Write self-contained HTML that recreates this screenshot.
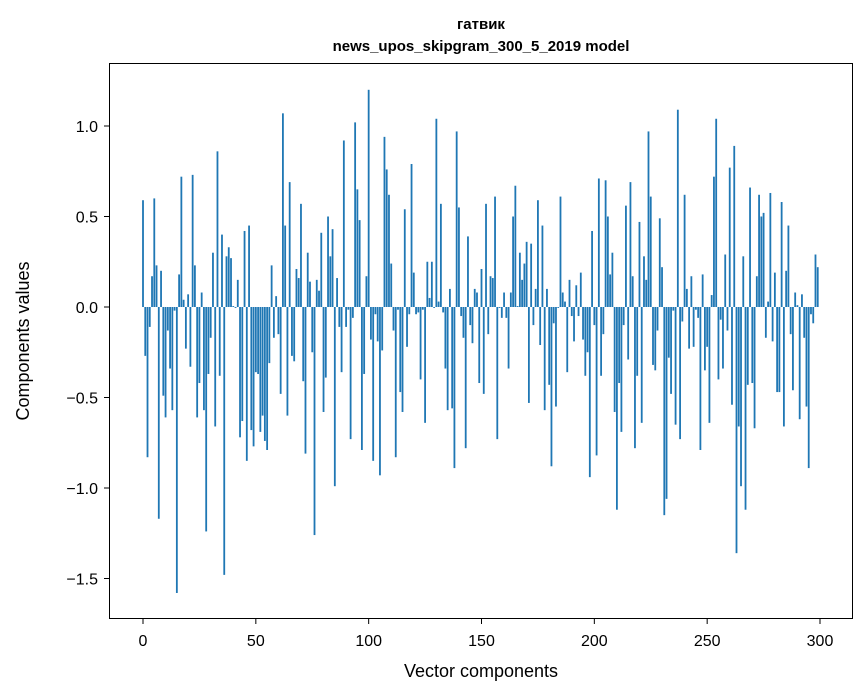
<!DOCTYPE html>
<html><head><meta charset="utf-8"><style>
body{margin:0;background:#fff;}
svg{display:block;font-family:"Liberation Sans","DejaVu Sans",sans-serif;}
</style></head><body>
<svg id="chart" width="867" height="696" viewBox="0 0 867 696" xmlns="http://www.w3.org/2000/svg">
<rect width="867" height="696" fill="#fff"/>
<text x="481" y="29" text-anchor="middle" font-size="15" font-weight="bold">гатвик</text>
<text x="481" y="51" text-anchor="middle" font-size="15" font-weight="bold">news_upos_skipgram_300_5_2019 model</text>
<g id="bars"></g>
<g id="axes"></g>
<rect x="109.5" y="63.5" width="743" height="555" fill="none" stroke="#000" stroke-width="1"/>
<text x="481" y="677" text-anchor="middle" font-size="18">Vector components</text>
<text x="29" y="341" text-anchor="middle" font-size="18" transform="rotate(-90 29 341)">Components values</text>
</svg>
<script>
const values = [
0.59,-0.27,-0.83,-0.11,0.17,0.60,0.23,-1.17,0.20,-0.49,
-0.61,-0.13,-0.34,-0.57,-0.02,-1.58,0.18,0.72,0.04,-0.23,
0.07,-0.33,0.73,0.23,-0.61,-0.42,0.08,-0.57,-1.24,-0.37,
-0.17,0.30,-0.66,0.86,-0.38,0.40,-1.48,0.28,0.33,0.27,
0.005,-0.005,0.15,-0.72,-0.63,0.42,-0.85,0.45,-0.68,-0.77,
-0.36,-0.37,-0.69,-0.60,-0.74,-0.79,-0.31,0.23,-0.17,0.06,
-0.15,-0.48,1.07,0.45,-0.60,0.69,-0.27,-0.30,0.21,0.16,
0.57,-0.41,-0.81,0.30,0.14,-0.25,-1.26,0.15,0.09,0.41,
-0.58,-0.39,0.50,0.28,0.43,-0.99,0.16,-0.11,-0.36,0.92,
-0.11,-0.015,-0.73,-0.06,1.02,0.65,0.48,-0.79,-0.37,0.17,
1.20,-0.18,-0.85,-0.04,-0.19,-0.93,-0.24,0.94,0.76,0.62,
0.24,-0.13,-0.83,-0.015,-0.47,-0.58,0.54,-0.22,-0.04,0.79,
0.19,-0.04,-0.03,-0.40,-0.015,-0.64,0.25,0.05,0.25,-0.005,
1.04,0.03,0.57,-0.03,-0.34,-0.57,0.10,-0.56,-0.89,0.97,
0.55,-0.05,-0.17,-0.78,0.39,-0.10,-0.20,0.10,0.08,-0.42,
0.21,-0.48,0.57,-0.15,0.17,0.16,0.61,-0.73,-0.005,-0.06,
0.08,-0.06,-0.34,0.08,0.50,0.67,0.005,0.30,0.15,0.24,
0.36,-0.53,0.35,-0.10,0.10,0.59,-0.21,0.45,-0.57,0.10,
-0.43,-0.88,-0.09,-0.55,-0.005,0.61,0.08,0.03,-0.36,0.15,
-0.05,-0.19,0.12,-0.05,0.19,-0.18,-0.38,-0.25,-0.94,0.42,
-0.10,-0.82,0.71,-0.38,-0.15,0.70,0.50,0.18,0.30,-0.58,
-1.12,-0.42,-0.69,-0.10,0.56,-0.29,0.69,0.17,-0.78,-0.38,
0.47,-0.64,0.28,0.15,0.97,0.61,-0.32,-0.35,-0.13,0.49,
0.22,-1.15,-1.06,-0.28,-0.48,-0.02,-0.65,1.09,-0.73,-0.08,
0.62,0.10,-0.23,0.17,-0.22,-0.015,-0.06,-0.79,0.18,-0.35,
-0.22,-0.64,0.066,0.72,1.04,-0.40,-0.07,-0.34,0.29,-0.13,
0.77,-0.54,0.89,-1.36,-0.66,-0.99,0.28,-1.12,-0.43,0.66,
-0.42,-0.67,0.17,0.62,0.50,0.52,-0.17,0.03,0.63,-0.19,
0.19,-0.47,-0.47,0.58,-0.66,0.20,0.45,-0.15,-0.46,0.08,
0.01,-0.62,0.07,-0.17,-0.55,-0.89,-0.04,-0.09,0.29,0.22
];
const xTicks = [0,50,100,150,200,250,300];
const yTicks = [1.0,0.5,0.0,-0.5,-1.0,-1.5];
const yTickLabels = ["1.0","0.5","0.0","\u22120.5","\u22121.0","\u22121.5"];

const NS="http://www.w3.org/2000/svg";
const X0=143, XK=(820-143)/300, Y0=307, YK=181;
function xs(v){return X0+v*XK;}
function ys(v){return Y0-v*YK;}
const bars=document.getElementById('bars');
values.forEach((v,i)=>{
  const r=document.createElementNS(NS,'rect');
  const x1=xs(i-0.4), x2=xs(i+0.4);
  const y1=Math.min(ys(v),ys(0)), h=Math.abs(ys(v)-ys(0));
  r.setAttribute('x',x1);r.setAttribute('width',x2-x1);
  r.setAttribute('y',y1);r.setAttribute('height',Math.max(h,0.3));
  r.setAttribute('fill','#1f77b4');
  
  
  bars.appendChild(r);
});
const axes=document.getElementById('axes');
xTicks.forEach(t=>{
  const l=document.createElementNS(NS,'line');
  l.setAttribute('x1',xs(t));l.setAttribute('x2',xs(t));
  l.setAttribute('y1',618.5);l.setAttribute('y2',624);
  l.setAttribute('stroke','#000');
  
  
  axes.appendChild(l);
  const tx=document.createElementNS(NS,'text');
  tx.setAttribute('x',xs(t));tx.setAttribute('y',646);
  tx.setAttribute('text-anchor','middle');tx.setAttribute('font-size','16');
  tx.textContent=String(t);
  
  
  axes.appendChild(tx);
});
yTicks.forEach((t,i)=>{
  const l=document.createElementNS(NS,'line');
  l.setAttribute('x1',104);l.setAttribute('x2',109.5);
  l.setAttribute('y1',ys(t));l.setAttribute('y2',ys(t));
  l.setAttribute('stroke','#000');
  
  
  axes.appendChild(l);
  const tx=document.createElementNS(NS,'text');
  tx.setAttribute('x',98);tx.setAttribute('y',ys(t)+6);
  tx.setAttribute('text-anchor','end');tx.setAttribute('font-size','16');
  tx.textContent=yTickLabels[i];
  
  
  axes.appendChild(tx);
});
</script>
</body></html>
